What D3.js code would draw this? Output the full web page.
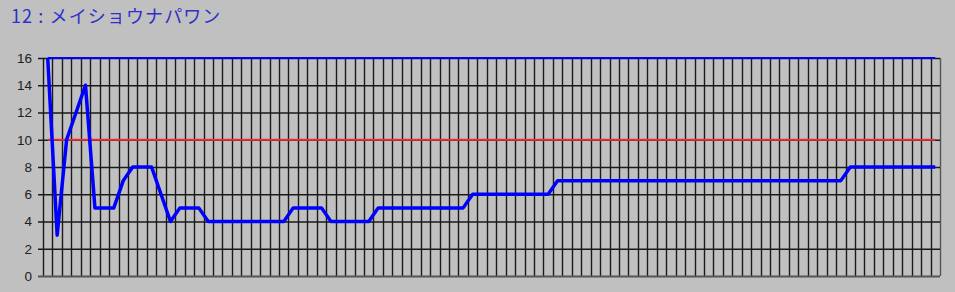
<!DOCTYPE html>
<html><head><meta charset="utf-8">
<script src="https://cdn.jsdelivr.net/npm/d3@7"></script>
<style>
html,body{margin:0;padding:0;background:#c0c0c0;}
svg{display:block;}
</style></head>
<body>
<script>
const title = "12 : メイショウナパワン";
const nCats = 95;
const categories = d3.range(1, nCats + 1);
const rankValues = [16,3,10,12,14,5,5,5,7,8,8,8,6,4,5,5,5,4,4,4,4,4,4,4,4,4,5,5,5,5,4,4,4,4,4,5,5,5,5,5,5,5,5,5,5,6,6,6,6,6,6,6,6,6,7,7,7,7,7,7,7,7,7,7,7,7,7,7,7,7,7,7,7,7,7,7,7,7,7,7,7,7,7,7,7,8,8,8,8,8,8,8,8,8,8];
const fieldValues = categories.map(() => 16);
const refValues = categories.map(() => 10);
const yTicks = [0,2,4,6,8,10,12,14,16];

const W = 955, H = 292;
const m = {left: 43, right: 15, top: 58, bottom: 16};
const svg = d3.select("body").append("svg").attr("width", W).attr("height", H);
svg.append("rect").attr("width", W).attr("height", H).attr("fill", "#c0c0c0");

svg.append("text").attr("x", 11).attr("y", 23)
  .attr("font-family", "'Noto Sans CJK JP', 'Noto Sans', sans-serif")
  .attr("font-size", 18).attr("letter-spacing", 1.1).attr("fill", "#3030c8").text(title);

const x = d3.scaleBand().domain(categories).range([m.left, W - m.right]).paddingInner(0).paddingOuter(0);
const y = d3.scaleLinear().domain([0, 16]).range([H - m.bottom, m.top]);
const cx = d => x(d) + x.bandwidth() / 2;

const g = svg.append("g");
// vertical grid
g.selectAll("line.v").data(categories.concat(["end"])).join("line")
  .attr("x1", (d,i) => Math.round(i < nCats ? x(d) : x(categories[nCats-1]) + x.bandwidth()) + 0.5)
  .attr("x2", (d,i) => Math.round(i < nCats ? x(d) : x(categories[nCats-1]) + x.bandwidth()) + 0.5)
  .attr("y1", y(16)).attr("y2", y(0))
  .attr("stroke", (d,i) => i === nCats ? "#555" : "#1a1a1a").attr("stroke-width", 1.4);

// y axis with gridlines
const yAxis = d3.axisLeft(y).tickValues(yTicks).tickSizeInner(-(W - m.right - m.left) - 5).tickSizeOuter(0).tickPadding(6);
const ya = svg.append("g").attr("transform", `translate(${m.left - 5},0)`).call(yAxis);
ya.select(".domain").remove();
ya.selectAll(".tick line").attr("stroke", "#1a1a1a").attr("stroke-width", 1.4);
ya.selectAll(".tick text").attr("font-family", "'Liberation Sans', Arial, sans-serif").attr("font-size", 13.5).attr("fill", "#202020");
ya.selectAll(".tick").filter(d => d === 0).select("line").attr("stroke", "#555").attr("stroke-width", 2);

const line = d3.line().x((d,i) => cx(categories[i])).y(d => y(d));
svg.append("path").datum(refValues).attr("d", line).attr("fill", "none").attr("stroke", "#f03030").attr("stroke-width", 2);
svg.append("path").datum(fieldValues).attr("d", line).attr("fill", "none").attr("stroke", "#0000ff").attr("stroke-width", 2);
svg.append("path").datum(rankValues).attr("d", line).attr("fill", "none").attr("stroke", "#0000ff").attr("stroke-width", 3.5).attr("stroke-linejoin", "round");
</script>
</body></html>
